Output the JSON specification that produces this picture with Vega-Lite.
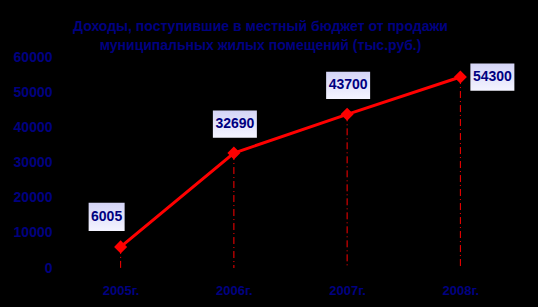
{
  "$schema": "https://vega.github.io/schema/vega-lite/v6.json",
  "width": 453,
  "height": 211,
  "autosize": {"type": "none"},
  "padding": {"left": 64, "top": 57, "right": 21, "bottom": 39},
  "background": "#000000",
  "config": {"view": {"stroke": null}, "font": "Liberation Sans"},
  "title": {
    "text": ["Доходы, поступившие в местный бюджет от продажи", "муниципальных жилых помещений (тыс.руб.)"],
    "color": "#000080",
    "font": "Liberation Sans",
    "fontSize": 14,
    "fontWeight": "bold",
    "anchor": "middle",
    "dx": -30,
    "offset": -3,
    "lineHeight": 19
  },
  "data": {
    "values": [
      {"year": "2005г.", "value": 6005, "label": "6005"},
      {"year": "2006г.", "value": 32690, "label": "32690"},
      {"year": "2007г.", "value": 43700, "label": "43700"},
      {"year": "2008г.", "value": 54300, "label": "54300"}
    ]
  },
  "encoding": {
    "x": {
      "field": "year",
      "type": "ordinal",
      "scale": {"type": "point", "padding": 0.5},
      "axis": {
        "title": null,
        "labelAngle": 0,
        "domain": false,
        "ticks": false,
        "labelPadding": 16,
        "labelColor": "#000080",
        "labelFont": "Liberation Sans",
        "labelFontSize": 13,
        "labelFontWeight": "bold",
        "labelLimit": 200
      }
    },
    "y": {
      "field": "value",
      "type": "quantitative",
      "scale": {"domain": [0, 60000], "nice": false},
      "axis": {
        "title": null,
        "values": [0, 10000, 20000, 30000, 40000, 50000, 60000],
        "format": "d",
        "grid": false,
        "domain": false,
        "ticks": false,
        "labelPadding": 12,
        "labelColor": "#000080",
        "labelFont": "Liberation Sans",
        "labelFontSize": 14,
        "labelFontWeight": "bold"
      }
    }
  },
  "layer": [
    {
      "mark": {"type": "rule", "color": "#ff0000", "strokeWidth": 1, "strokeDash": [7, 3, 1, 3]},
      "encoding": {"y2": {"datum": 0}}
    },
    {
      "mark": {"type": "line", "color": "#ff0000", "strokeWidth": 3}
    },
    {
      "mark": {"type": "point", "shape": "diamond", "filled": true, "color": "#ff0000", "size": 170, "opacity": 1}
    },
    {
      "transform": [{"filter": "datum.value < 10000"}],
      "mark": {
        "type": "point",
        "shape": "M-1,-0.78L1,-0.78L1,0.78L-1,0.78Z",
        "size": 1296,
        "filled": true,
        "opacity": 1,
        "xOffset": -14,
        "yOffset": -30,
        "fill": {"gradient": "linear", "x1": 0, "y1": 0, "x2": 0, "y2": 1, "stops": [{"offset": 0, "color": "#d4d4f6"}, {"offset": 1, "color": "#f4f4ff"}]}
      }
    },
    {
      "transform": [{"filter": "datum.value < 10000"}],
      "mark": {"type": "text", "color": "#000080", "font": "Liberation Sans", "fontSize": 14, "fontWeight": "bold", "dx": -14, "dy": -30, "baseline": "middle"},
      "encoding": {"text": {"field": "label"}}
    },
    {
      "transform": [{"filter": "datum.value >= 10000 && datum.value < 50000"}],
      "mark": {
        "type": "point",
        "shape": "M-1,-0.62L1,-0.62L1,0.62L-1,0.62Z",
        "size": 1936,
        "filled": true,
        "opacity": 1,
        "xOffset": 1,
        "yOffset": -29,
        "fill": {"gradient": "linear", "x1": 0, "y1": 0, "x2": 0, "y2": 1, "stops": [{"offset": 0, "color": "#d4d4f6"}, {"offset": 1, "color": "#f4f4ff"}]}
      }
    },
    {
      "transform": [{"filter": "datum.value >= 10000 && datum.value < 50000"}],
      "mark": {"type": "text", "color": "#000080", "font": "Liberation Sans", "fontSize": 14, "fontWeight": "bold", "dx": 1, "dy": -29, "baseline": "middle"},
      "encoding": {"text": {"field": "label"}}
    },
    {
      "transform": [{"filter": "datum.value >= 50000"}],
      "mark": {
        "type": "point",
        "shape": "M-1,-0.62L1,-0.62L1,0.62L-1,0.62Z",
        "size": 1936,
        "filled": true,
        "opacity": 1,
        "xOffset": 32,
        "yOffset": 0,
        "fill": {"gradient": "linear", "x1": 0, "y1": 0, "x2": 0, "y2": 1, "stops": [{"offset": 0, "color": "#d4d4f6"}, {"offset": 1, "color": "#f4f4ff"}]}
      }
    },
    {
      "transform": [{"filter": "datum.value >= 50000"}],
      "mark": {"type": "text", "color": "#000080", "font": "Liberation Sans", "fontSize": 14, "fontWeight": "bold", "dx": 32, "dy": 0, "baseline": "middle"},
      "encoding": {"text": {"field": "label"}}
    }
  ]
}
